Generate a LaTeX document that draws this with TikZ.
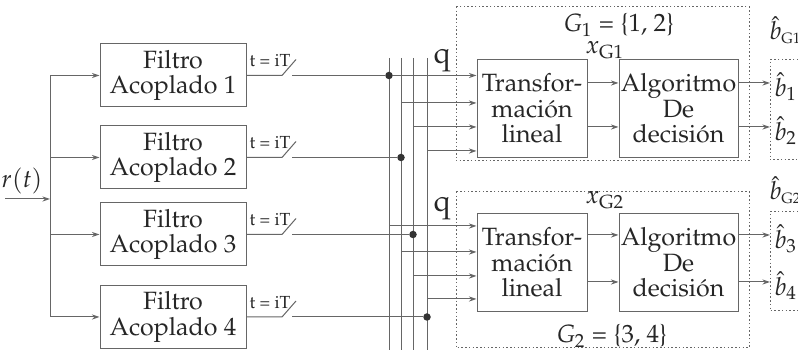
\documentclass[tikz,border=0pt]{standalone}
\usepackage[T1]{fontenc}
\usepackage{mathpazo}
\usetikzlibrary{arrows.meta}
\newcommand{\bh}[1]{\hat{b}_{#1}}

\begin{document}
\begin{tikzpicture}[x=0.4pt,y=-0.4pt,color=black!60,line width=0.4pt,
    every node/.style={font=\fontsize{10}{12}\selectfont,text=black!85},
    blk/.style={draw,align=center,inner sep=0pt,font=\fontsize{10}{10.2}\selectfont},
    grp/.style={draw,dash pattern=on 0.6pt off 0.9pt},
    ar/.style={-{Stealth[length=3pt,width=2pt]}},
    jdot/.style={circle,fill=black!80,inner sep=0pt,minimum size=3pt}]
  \useasboundingbox (0,0) rectangle (798,350);

  % filters
  \foreach \i/\y in {1/75.5,2/157.5,3/234.5,4/317}
    \node[blk,minimum width=58.4pt,minimum height=25.2pt] (f\i) at (173,\y) {Filtro\\Acoplado \i};

  \node (r) at (22,181) {$r(t)$};
  \coordinate (rin) at (5,199);
  \coordinate (sx) at (50,199);
  \draw[ar] (rin) -- (sx);
  \draw (f1.west -| sx) -- (f4.west -| sx);
  \foreach \i in {1,...,4}
    \draw[ar] (f\i.west -| sx) -- (f\i.west);

  % bus
  \foreach \k/\x in {1/389,2/401,3/413,4/427} {
    \coordinate (bt\k) at (\x,58);
    \coordinate (bb\k) at (\x,350);
    \draw (bt\k) -- (bb\k);
  }

  % switches
  \foreach \i/\y/\x in {1/75.5/389,2/157.5/401,3/234.5/413,4/317/427} {
    \coordinate (sa\i) at (282,\y);
    \coordinate (sb\i) at (296,\y-16);
    \coordinate (sc\i) at (292,\y);
    \node[jdot] (d\i) at (\x,\y) {};
    \draw (f\i.east) -- (sa\i) -- (sb\i);
    \draw (sc\i) -- (d\i);
    \node[font=\fontsize{7}{8}\selectfont,anchor=west,inner sep=0pt] (ts\i) at (249,\y-15) {t = iT};
  }

  % groups
  \draw[grp] (456,7) rectangle (749,161);
  \draw[grp] (456,192) rectangle (749,348);
  \node[inner sep=0pt] (g1) at (619,25) {$G_1$ = \{1, 2\}};
  \node[inner sep=0pt] (g2) at (612,336) {$G_2$ = \{3, 4\}};

  \node[blk,minimum width=44pt,minimum height=39pt] (t1) at (532,108.5) {Transfor-\\maci\'on\\lineal};
  \node[blk,minimum width=47.6pt,minimum height=39pt] (a1) at (678.5,108.5) {Algoritmo\\De\\decisi\'on};
  \node[blk,minimum width=44pt,minimum height=39pt] (t2) at (532,262.5) {Transfor-\\maci\'on\\lineal};
  \node[blk,minimum width=47.6pt,minimum height=39pt] (a2) at (678.5,262.5) {Algoritmo\\De\\decisi\'on};

  \node[font=\fontsize{12}{14}\selectfont] (q1) at (442,60) {q};
  \node[font=\fontsize{12}{14}\selectfont] (q2) at (442,208) {q};
  \node[inner sep=0pt] (x1) at (605,50) {$x_{\mathrm{G1}}$};
  \node[inner sep=0pt] (x2) at (605,200) {$x_{\mathrm{G2}}$};

  % inputs of the transforms
  \draw[ar] (d1) -- (d1 -| t1.west);
  \foreach \k/\x/\y in {2/401/103,3/413/127,4/427/151} {
    \coordinate (u\k) at (\x,\y);
    \draw[ar] (u\k) -- (u\k -| t1.west);
  }
  \foreach \k/\x/\y in {1/389/226,2/401/252,3/413/276,4/427/299} {
    \coordinate (v\k) at (\x,\y);
    \draw[ar] (v\k) -- (v\k -| t2.west);
  }

  % transform to decision
  \foreach \n/\y in {1/83,2/127,3/235,4/282}
    \coordinate (p\n) at (600,\y);
  \draw[ar] (p1 -| t1.east) -- (p1 -| a1.west);
  \draw[ar] (p2 -| t1.east) -- (p2 -| a1.west);
  \draw[ar] (p3 -| t2.east) -- (p3 -| a2.west);
  \draw[ar] (p4 -| t2.east) -- (p4 -| a2.west);

  % outputs
  \draw[grp] (798,60) -| (770,160) -- (798,160);
  \draw[grp] (798,212) -| (770,311) -- (798,311);
  \node[anchor=west,inner sep=0pt] (bg1) at (769,30) {$\bh{\scriptscriptstyle\mathrm{G1}}$};
  \node[anchor=west,inner sep=0pt] (bg2) at (769,190) {$\bh{\scriptscriptstyle\mathrm{G2}}$};
  \foreach \n/\y in {1/83,2/127,3/235,4/282}
    \node[anchor=west,inner sep=0pt] (b\n) at (774,\y+4) {$\bh{\n}$};
  \draw[ar] (p1 -| a1.east) -- (p1 -| 770,0);
  \draw[ar] (p2 -| a1.east) -- (p2 -| 770,0);
  \draw[ar] (p3 -| a2.east) -- (p3 -| 770,0);
  \draw[ar] (p4 -| a2.east) -- (p4 -| 770,0);
\end{tikzpicture}
\end{document}
